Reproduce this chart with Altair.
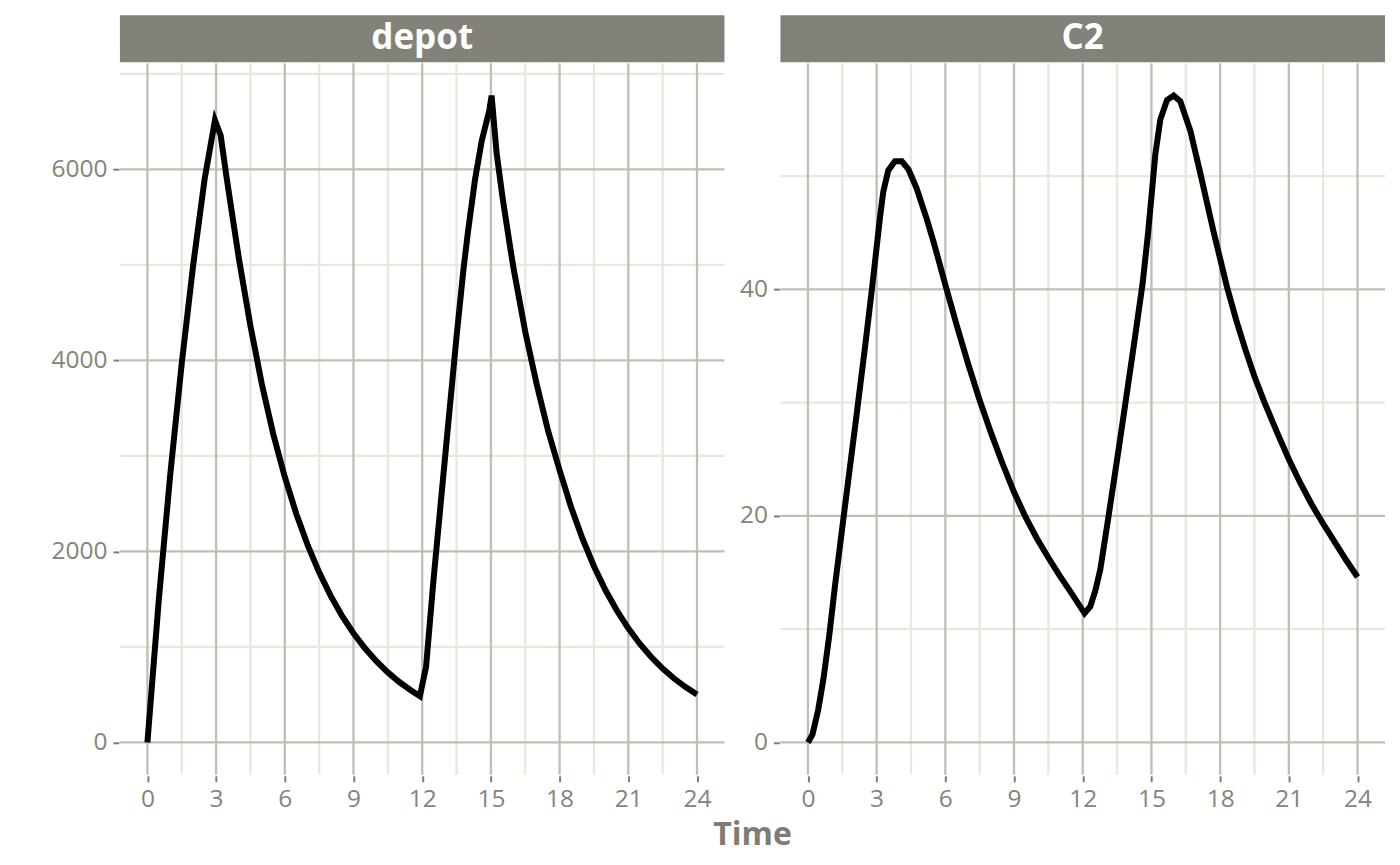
import altair as alt
import pandas as pd

# ---- data ----
depot_time = [0, 0.5, 1.0, 1.5, 2.0, 2.5, 2.95, 3.2, 3.45, 3.7, 4.0, 4.5, 5.0, 5.5,
              6.0, 6.5, 7.0, 7.5, 8.0, 8.5, 9.0, 9.5, 10.0, 10.5, 11.0, 11.5, 11.9, 12.17,
              12.5, 13.0, 13.5, 13.8, 14.0, 14.31, 14.6, 14.93, 15.03, 15.25, 15.5,
              15.85, 16.0, 16.5, 17.0, 17.5, 18.0, 18.5, 19.0, 19.5, 20.0, 20.5, 21.0,
              21.5, 22.0, 22.5, 23.0, 23.5, 24.0]
depot_amt = [0, 1500, 2810, 3970, 5000, 5900, 6515, 6355, 5930, 5530, 5060, 4360, 3750, 3225,
             2780, 2395, 2065, 1781, 1537, 1325, 1143, 986, 850, 733, 632, 546, 485, 795,
             1720, 2990, 4250, 4950, 5350, 5900, 6300, 6617, 6773, 6170, 5720,
             5170, 4950, 4300, 3750, 3260, 2850, 2465, 2133, 1845, 1596, 1381, 1195,
             1034, 894, 773, 669, 579, 501]

c2_time = [0, 0.2, 0.45, 0.67, 0.93, 1.18, 1.54, 1.84, 2.13, 2.5, 2.8, 3.0, 3.15, 3.29, 3.51,
           3.8, 4.1, 4.39, 4.75, 5.19, 5.5, 6.0, 6.5, 7.0, 7.5, 8.0, 8.5, 9.0, 9.5, 10.0,
           10.5, 11.0, 11.5, 12.08, 12.33, 12.55, 12.77, 13.13, 13.42, 13.57, 13.86, 14.25,
           14.62, 14.85, 15.03, 15.17, 15.39, 15.68, 15.97, 16.26, 16.7, 17.14, 17.7, 18.3,
           18.7, 19.1, 19.5, 19.94, 20.5, 21.0, 21.5, 22.0, 22.5, 23.0, 23.5, 24.0]
c2_conc = [0, 0.7, 2.9, 5.5, 9.4, 13.8, 19.6, 24.4, 29.0, 35.0, 40.1, 43.7, 46.4, 48.6, 50.5,
           51.3, 51.3, 50.6, 48.9, 46.2, 44.1, 40.4, 36.8, 33.4, 30.2, 27.3, 24.6, 22.1, 19.9,
           18.0, 16.3, 14.7, 13.2, 11.4, 12.0, 13.4, 15.3, 20.0, 23.9, 25.9, 29.9, 35.3, 40.6,
           44.9, 48.8, 51.9, 55.0, 56.7, 57.1, 56.6, 54.0, 50.2, 45.2, 40.2,
           37.3, 34.7, 32.3, 30.0, 27.3, 25.0, 22.9, 21.0, 19.3, 17.7, 16.1, 14.6]

x_breaks = [0, 3, 6, 9, 12, 15, 18, 21, 24]
x_minor = [1.5, 4.5, 7.5, 10.5, 13.5, 16.5, 19.5, 22.5]
depot_breaks = [0, 2000, 4000, 6000]
depot_minor = [1000, 3000, 5000, 7000]
c2_breaks = [0, 20, 40]
c2_minor = [10, 30, 50]

FONT = "Open Sans"
MAJOR = "#bfbfb2"
MINOR = "#e8e8dc"
STRIP = "#82827a"
LABEL = "#84847c"
TICK = "#7d7d77"
W, H = 605, 712


def expand(vals):
    lo, hi = min(vals), max(vals)
    pad = 0.05 * (hi - lo)
    return [lo - pad, hi + pad]


def axis(values):
    return alt.Axis(values=values, format="d", grid=False, domain=False, ticks=True,
                    tickSize=6, tickWidth=2, tickColor=TICK, labelFont=FONT,
                    labelFontSize=24.5, labelColor=LABEL, labelPadding=6, offset=1, title=None)


def panel(name, t, v, ybreaks, yminor):
    xs = alt.Scale(domain=expand(t), nice=False, zero=False)
    ys = alt.Scale(domain=expand(v), nice=False, zero=False)
    xa = axis(x_breaks)
    ya = axis(ybreaks)

    def vrules(vals, color):
        return alt.Chart(pd.DataFrame({"Time": vals})).mark_rule(color=color, strokeWidth=2.3).encode(
            x=alt.X("Time:Q", scale=xs, axis=xa))

    def hrules(vals, color):
        return alt.Chart(pd.DataFrame({"value": vals})).mark_rule(color=color, strokeWidth=2.3).encode(
            y=alt.Y("value:Q", scale=ys, axis=ya))

    line = alt.Chart(pd.DataFrame({"Time": t, "value": v})).mark_line(
        color="black", strokeWidth=6).encode(
        x=alt.X("Time:Q", scale=xs, axis=xa),
        y=alt.Y("value:Q", scale=ys, axis=ya),
    )

    one = pd.DataFrame({"k": [0]})
    strip = alt.Chart(one).mark_rect(color=STRIP).encode(
        x=alt.value(0), x2=alt.value(W), y=alt.value(-48), y2=alt.value(-1))
    label = alt.Chart(one).mark_text(
        font=FONT, fontSize=35, fontWeight="bold", color="white",
        align="center", baseline="middle").encode(
        x=alt.value(W / 2), y=alt.value(-25), text=alt.value(name))

    return alt.layer(
        vrules(x_minor, MINOR), hrules(yminor, MINOR),
        vrules(x_breaks, MAJOR), hrules(ybreaks, MAJOR),
        line, strip, label,
    ).properties(width=W, height=H)


left = panel("depot", depot_time, depot_amt, depot_breaks, depot_minor)
right = panel("C2", c2_time, c2_conc, c2_breaks, c2_minor)

chart = alt.hconcat(left, right, spacing=12).properties(
    title=alt.TitleParams("Time", orient="bottom", anchor="middle", font=FONT,
                          fontSize=32, fontWeight="bold", color="#7d7d75", dx=34, offset=9),
    padding={"left": 42, "top": 7, "right": 5, "bottom": 5},
).configure_view(stroke=None)

chart.save("out.html", embed_options={"renderer": "svg", "actions": False})
